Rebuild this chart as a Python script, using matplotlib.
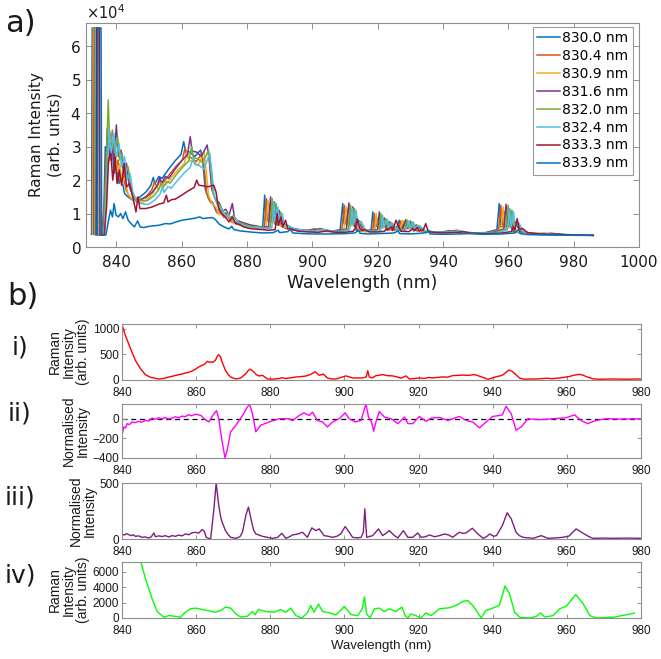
import matplotlib
matplotlib.use("Agg")
import matplotlib.pyplot as plt
from matplotlib.ticker import ScalarFormatter

plt.rcParams['font.family'] = ['DejaVu Sans']

# ---------------- panel a) data : (wavelength nm, intensity) ----------------
series_labels = ['830.0 nm', '830.4 nm', '830.9 nm', '831.6 nm',
                 '832.0 nm', '832.4 nm', '833.3 nm', '833.9 nm']

s_830_0 = [(832.4,3800),(832.6,65500),(833.4,65500),(833.6,3600),(835.6,3600),
    (836.2,12000),(836.6,30000),(837.0,25000),(837.5,33000),(838.1,26000),(838.7,30000),(839.3,22000),
    (840.0,25000),(840.8,19000),(841.5,21000),(842.5,16000),(843.5,15000),(845.0,14000),
    (847.0,14800),(849.0,16400),(850.5,18300),(851.3,20800),(851.8,18900),(853.0,21100),(854.0,20500),
    (856.0,23300),(858.0,25800),(859.8,27700),(860.6,31500),(861.2,28700),(862.5,28400),(864.0,27100),
    (865.8,29000),(866.5,25200),(867.2,17300),(868.2,14500),(869.5,13200),(870.5,10700),(871.5,11300),
    (872.5,9500),(873.5,10100),(875.0,7900),(877.0,7200),(879.0,6600),
    (881.0,6200),(883.0,5800),(884.8,6000),(885.4,15500),(885.8,8000),(886.6,13000),(887.1,7500),
    (888.0,10500),(888.6,6800),(890.0,6600),(892.0,5500),(895.0,5000),(898.0,4800),
    (900.5,5400),(903.0,4800),(906.0,4700),(908.5,5200),(909.3,13000),(909.7,7000),(910.5,11500),
    (911.0,6500),(912.0,8000),(913.5,5000),
    (916.0,4700),(918.0,5200),(918.5,10500),(918.9,6000),(920.0,8500),(920.5,5800),(921.5,7500),(923.0,5300),
    (925.5,5000),(926.6,8000),(927.0,5500),(928.0,7500),(928.5,5600),(929.8,6500),(931.5,5000),
    (934.0,4600),(937.0,4400),
    (940.5,4600),(942.0,4900),(944.0,4400),(948.0,4200),
    (953.0,4300),(956.5,5200),(957.2,13000),(957.6,6000),(958.4,11000),(958.9,6000),(960.0,7500),
    (961.5,4600),(964.0,4200),
    (968.0,3900),(971.0,4100),(972.0,3800),(975.0,3700),(980.0,3600),(986.0,3500)]

s_830_4 = [(832.6,3800),(832.8,65500),(833.6,65500),(833.8,3600),(835.8,3600),
    (836.4,14000),(836.9,29000),(837.4,24000),(838.0,34500),(838.5,27000),(839.0,31000),(839.8,23000),
    (840.5,26000),(841.2,19500),(842.0,22000),(843.0,17000),(844.0,15000),(845.3,14000),
    (847.4,13900),(849.4,15400),(850.9,17200),(851.7,19600),(852.2,17800),(853.4,19800),(854.4,19300),
    (856.4,21900),(858.4,24300),(860.2,26000),(861.0,29500),(861.6,27000),(862.9,26700),(864.4,25500),
    (866.2,28000),(866.9,23700),(867.6,16300),(868.6,13600),(869.9,12400),(870.9,10100),(871.9,10600),
    (872.9,8900),(873.9,9500),(875.4,7400),(877.4,6800),(879.4,6200),
    (881.5,6000),(883.5,5700),(885.3,5900),(885.9,14500),(886.3,7800),(887.1,12500),(887.6,7300),
    (888.5,10000),(889.1,6700),(890.5,6400),(892.5,5400),(895.5,4900),(898.5,4700),
    (901.0,5300),(903.5,4700),(906.5,4600),(909.0,5100),(909.8,12500),(910.2,6900),(911.0,11000),
    (911.5,6400),(912.5,7800),(914.0,4900),
    (916.5,4600),(918.5,5100),(919.0,10000),(919.4,5900),(920.5,8200),(921.0,5700),(922.0,7300),(923.5,5200),
    (926.0,4900),(927.1,7800),(927.5,5400),(928.5,7300),(929.0,5500),(930.3,6400),(932.0,4900),
    (934.5,4500),(937.5,4300),
    (941.0,4500),(942.5,4800),(944.5,4300),(948.5,4100),
    (953.5,4200),(957.0,5100),(957.7,12500),(958.1,5900),(958.9,10500),(959.4,5900),(960.5,7300),
    (962.0,4500),(964.5,4100),
    (968.5,3900),(971.5,4000),(972.5,3800),(975.5,3700),(980.0,3600),(986.0,3500)]

s_830_9 = [(832.8,3800),(833.0,65500),(833.8,65500),(834.0,3600),(835.9,3600),
    (836.6,15000),(837.1,30000),(837.7,25000),(838.4,33000),(839.0,27000),(839.6,30000),(840.3,22500),
    (841.0,25000),(841.8,19000),(842.6,21000),(843.5,16000),(844.5,14500),(846.0,13500),
    (848.0,13300),(850.0,14800),(851.5,16500),(852.3,18700),(852.8,17000),(854.0,19000),(855.0,18500),
    (857.0,21000),(859.0,23200),(860.8,24900),(861.6,28500),(862.2,25800),(863.5,25600),(865.0,24400),
    (866.8,28500),(867.5,22700),(868.2,15600),(869.2,13100),(870.5,11900),(871.5,9600),(872.5,10200),
    (873.5,8600),(874.5,9100),(876.0,7100),(878.0,6500),(880.0,5900),
    (882.0,6000),(884.0,5600),(885.8,5800),(886.4,14000),(886.8,7700),(887.6,12500),(888.1,7200),
    (889.0,10000),(889.6,6600),(891.0,6300),(893.0,5300),(896.0,4900),(899.0,4700),
    (901.6,5300),(904.1,4700),(907.1,4600),(909.6,5100),(910.4,12000),(910.8,6800),(911.6,11500),
    (912.1,6300),(913.1,7700),(914.6,4900),
    (917.1,4600),(919.1,5100),(919.6,10000),(920.0,5800),(921.1,8500),(921.6,5600),(922.6,7200),(924.1,5100),
    (926.6,4900),(927.7,8000),(928.1,5400),(929.1,7600),(929.6,5500),(930.9,6300),(932.6,4900),
    (935.1,4500),(938.1,4300),
    (941.7,4500),(943.2,4900),(945.2,4300),(949.2,4100),
    (954.2,4200),(957.7,5100),(958.4,12000),(958.8,5900),(959.6,11000),(960.1,5800),(961.2,7200),
    (962.7,4500),(965.2,4100),
    (969.2,3900),(972.2,4000),(973.2,3800),(976.2,3700),(980.5,3600),(986.0,3500)]

s_831_6 = [(833.1,3800),(833.3,65500),(834.0,65500),(834.2,3600),(836.0,3600),
    (836.7,18000),(837.2,35500),(837.8,27000),(838.6,31000),(839.2,26000),(840.0,36500),(840.6,27000),
    (841.4,29000),(842.2,22000),(843.1,25000),(844.0,18000),(845.2,15000),(846.5,14000),
    (849.0,14800),(851.0,16400),(852.5,18300),(853.3,20800),(853.8,18900),(855.0,21100),(856.0,20500),
    (858.0,23300),(860.0,25800),(861.8,27700),(862.6,33000),(863.2,28700),(864.5,28400),(866.0,27100),
    (867.8,30500),(868.5,25200),(869.2,17300),(870.2,14500),(871.5,13200),(872.5,10700),(873.5,11300),
    (874.5,9500),(875.5,13000),(876.2,8500),(877.0,7900),(879.0,7200),(881.0,6600),
    (882.8,6300),(884.8,5900),(886.6,6100),(887.2,15000),(887.6,8200),(888.4,13500),(888.9,7700),
    (889.8,11000),(890.4,7000),(891.8,6700),(893.8,5600),(896.8,5100),(899.8,4900),
    (902.4,5500),(904.9,4900),(907.9,4800),(910.4,5300),(911.2,13200),(911.6,7100),(912.4,12000),
    (912.9,6600),(913.9,8200),(915.4,5100),
    (918.0,4800),(920.0,5300),(920.5,10500),(920.9,6100),(922.0,8700),(922.5,5900),(923.5,7600),(925.0,5300),
    (927.5,5000),(928.6,8200),(929.0,5600),(930.0,7700),(930.5,5700),(931.8,6600),(933.5,5000),
    (936.0,4600),(939.0,4400),
    (942.6,4700),(944.1,5000),(946.1,4400),(950.1,4200),
    (955.1,4300),(958.6,5300),(959.3,12800),(959.7,6100),(960.5,11200),(961.0,6100),(962.1,7600),
    (963.6,4600),(966.1,4200),
    (970.2,3900),(973.2,4100),(974.2,3800),(977.2,3700),(981.0,3600),(986.0,3500)]

s_832_0 = [(833.3,3800),(833.5,65500),(834.2,65500),(834.4,3600),(836.1,3600),
    (836.8,20000),(837.5,44000),(838.0,30000),(838.8,35000),(839.5,28000),(840.4,33000),(841.0,26000),
    (841.8,28000),(842.6,21000),(843.6,24000),(844.6,17000),(845.6,15000),(847.0,14000),
    (849.4,13800),(851.4,15300),(852.9,17000),(853.7,19300),(854.2,17600),(855.4,19600),(856.4,19100),
    (858.4,21700),(860.4,24000),(862.2,25800),(863.0,30000),(863.6,26700),(864.9,26400),(866.4,25200),
    (868.2,29000),(868.9,23400),(869.6,16100),(870.6,13500),(871.9,12300),(872.9,10000),(873.9,10500),
    (874.9,8800),(875.9,9400),(877.4,7300),(879.4,6700),(881.4,6100),
    (883.3,6100),(885.3,5700),(887.1,5900),(887.7,14500),(888.1,7900),(888.9,13000),(889.4,7400),
    (890.3,10500),(890.9,6800),(892.3,6500),(894.3,5400),(897.3,5000),(900.3,4800),
    (902.9,5300),(905.4,4800),(908.4,4700),(910.9,5200),(911.7,12500),(912.1,6900),(912.9,11500),
    (913.4,6400),(914.4,7900),(915.9,5000),
    (918.5,4700),(920.5,5200),(921.0,10000),(921.4,6000),(922.5,8500),(923.0,5800),(924.0,7400),(925.5,5200),
    (928.0,5000),(929.1,8000),(929.5,5500),(930.5,7500),(931.0,5600),(932.3,6500),(934.0,5000),
    (936.5,4600),(939.5,4400),
    (943.1,4600),(944.6,5000),(946.6,4400),(950.6,4200),
    (955.7,4300),(959.2,5200),(959.9,12500),(960.3,6000),(961.1,11000),(961.6,6000),(962.7,7400),
    (964.2,4600),(966.7,4200),
    (970.8,3900),(973.8,4100),(974.8,3800),(977.8,3700),(981.5,3600),(986.0,3500)]

s_832_4 = [(833.6,3800),(833.8,65500),(834.5,65500),(834.7,3600),(836.2,3600),
    (837.0,17000),(837.8,35000),(838.4,28000),(839.2,34000),(840.0,27000),(840.8,31000),(841.6,24000),
    (842.5,27000),(843.3,20000),(844.2,22000),(845.0,16500),(846.0,14000),(847.5,13000),
    (849.8,12700),(851.8,14100),(853.3,15700),(854.1,17900),(854.6,16300),(855.8,18100),(856.8,17600),
    (858.8,20000),(860.8,22200),(862.6,23800),(863.4,26500),(864.0,24700),(865.3,24400),(866.8,23300),
    (868.6,28000),(869.3,21700),(870.0,14900),(871.0,12500),(872.3,11400),(873.3,9200),(874.3,9700),
    (875.3,8200),(876.3,8700),(877.8,6800),(879.8,6200),(881.8,5700),
    (883.8,5800),(885.8,5500),(887.6,5700),(888.2,13500),(888.6,7600),(889.4,12000),(889.9,7100),
    (890.8,10000),(891.4,6600),(892.8,6300),(894.8,5300),(897.8,4900),(900.8,4700),
    (903.4,5200),(905.9,4700),(908.9,4600),(911.4,5100),(912.2,11500),(912.6,6800),(913.4,11000),
    (913.9,6300),(914.9,7700),(916.4,4900),
    (919.0,4600),(921.0,5100),(921.5,9500),(921.9,5900),(923.0,8300),(923.5,5700),(924.5,7200),(926.0,5100),
    (928.5,4900),(929.6,7800),(930.0,5400),(931.0,7400),(931.5,5500),(932.8,6400),(934.5,4900),
    (937.0,4500),(940.0,4300),
    (943.6,4500),(945.1,4900),(947.1,4300),(951.1,4100),
    (956.2,4200),(959.7,5100),(960.4,11500),(960.8,5900),(961.6,10500),(962.1,5900),(963.2,7200),
    (964.7,4500),(967.2,4100),
    (971.3,3900),(974.3,4000),(975.3,3800),(978.3,3700),(982.0,3600),(986.0,3500)]

s_833_3 = [(833.8,3800),(834.0,65500),(834.8,65500),(835.0,3600),(836.3,3600),
    (837.0,12000),(837.6,26000),(838.3,28000),(838.9,20000),(839.6,27000),(840.2,19000),(840.9,23000),
    (841.6,18500),(842.4,25000),(843.1,18000),(844.0,19000),(845.0,15000),(846.0,10500),(846.6,15000),
    (847.2,11500),
    (849.0,11500),(851.0,12000),(853.0,12800),(854.5,13200),(855.3,15500),(855.8,13500),(857.0,14200),
    (858.0,14300),(860.0,15500),(862.0,16800),(863.8,17800),(864.6,20000),(865.2,18500),(866.5,18300),
    (868.0,18000),(869.8,18500),(870.5,16500),(871.2,12000),(872.2,10000),(873.5,8800),(874.5,7500),
    (875.5,9000),(876.5,7000),(877.5,6800),(879.0,6000),(881.0,5500),(883.0,5300),
    (884.8,5200),(886.6,5000),(888.6,5200),(889.2,10000),(889.6,6500),(890.4,9000),(890.9,6000),
    (891.8,8000),(892.4,5600),(893.8,5300),(895.8,4700),(898.8,4500),(901.8,4400),
    (904.5,4800),(907.0,4400),(910.0,4400),(912.5,4700),(913.3,5800),(913.7,8400),(914.5,5600),
    (915.0,5000),(916.0,5200),(917.5,4500),
    (920.1,4500),(922.1,4700),(922.6,5500),(923.0,5000),(924.1,6000),(924.6,4900),(925.6,8000),(927.1,4700),
    (929.6,4600),(930.7,5500),(931.1,4800),(932.1,5800),(932.6,4900),(933.9,5000),(934.7,7000),
    (935.5,4600),(938.0,4300),(941.1,4200),
    (944.7,4400),(946.2,4600),(948.2,4200),(952.2,4000),
    (957.4,4100),(960.9,4600),(961.6,6000),(962.0,5000),(962.7,8500),(963.3,5200),(964.4,5500),
    (965.9,4300),(968.4,4000),
    (972.5,3800),(975.5,3900),(976.5,3700),(979.5,3600),(983.0,3550),(986.0,3500)]

s_833_9 = [(834.1,3800),(834.3,65500),(835.3,65500),(835.5,3600),(836.8,3600),
    (837.5,7500),(838.2,11000),(838.8,9000),(839.3,13000),(839.9,9500),(840.6,9000),(841.3,10000),
    (842.0,8500),(842.8,10500),(843.6,8000),(844.5,7000),(845.5,6000),(846.5,7800),(847.3,6000),
    (848.5,5800),
    (849.0,6000),(851.0,6300),(853.0,6500),(855.0,7000),(856.5,6900),(858.0,7400),(860.0,8000),
    (862.0,8300),(864.0,8600),(865.5,9000),(866.5,8500),(868.0,8700),(869.5,8800),(870.5,8000),
    (871.5,6800),(873.0,6000),(874.5,5400),(875.3,6200),(876.0,5200),(878.0,4800),(880.0,4600),
    (882.0,4400),(885.0,4200),(888.0,4300),(889.5,5000),(890.0,4300),(892.5,4600),(893.3,5300),
    (894.0,4200),(897.0,4000),(900.0,3900),(905.0,3900),(910.0,4000),(913.0,4200),(914.2,5000),
    (914.6,4100),(917.0,3900),(920.0,4000),(923.0,4100),(925.0,4200),(926.3,4800),(926.7,4000),
    (930.0,3900),(933.0,4100),(935.0,4300),(935.6,5000),(936.0,3900),(940.0,3800),(945.0,3900),
    (948.0,4000),(952.0,3800),(958.0,3900),(962.0,4200),(963.2,5300),(963.6,4000),(966.0,3700),
    (970.0,3600),(975.0,3550),(980.0,3500),(986.0,3450)]

series_data = [s_830_0, s_830_4, s_830_9, s_831_6, s_832_0, s_832_4, s_833_3, s_833_9]
series_colors = ['#0072BD', '#D95319', '#EDB120', '#7E2F8E',
                 '#77AC30', '#4DBEEE', '#A2142F', '#0072BD']

# ---------------- panel b) data ----------------
raman_i = [(840.0,1077),(840.9,870),(842.3,610),(843.6,383),(845.0,220),(846.3,104),(847.7,52),
    (849.9,20),(851.2,30),(852.6,58),(854.0,80),(855.3,104),(856.2,115),(857.1,136),(858.0,150),
    (858.9,175),(859.8,210),(860.7,253),(861.4,280),(862.1,299),(862.6,330),(863.0,363),(863.5,345),
    (863.9,350),(864.5,345),(865.2,383),(865.7,460),(866.1,493),(866.6,450),(867.0,350),(867.9,188),
    (868.6,110),(869.3,58),(870.7,20),(872.0,39),(873.4,123),(874.0,180),(874.6,210),(875.6,156),
    (876.3,100),(877.0,78),(877.9,91),(879.2,20),(880.5,15),(882.4,30),(883.3,45),(884.2,30),
    (886.9,58),(888.2,65),(889.6,78),(890.9,110),(892.1,160),(893.2,91),(894.3,115),(895.4,39),
    (896.5,20),(897.7,20),(899.5,60),(900.4,80),(901.3,60),(902.2,40),(904.9,40),(905.9,60),
    (906.3,180),(906.7,58),(907.5,40),(908.5,85),(909.3,90),(910.3,105),(911.5,85),(913.0,80),
    (914.2,60),(915.3,35),(916.6,80),(917.5,20),(919.0,30),(920.2,40),(921.5,30),(922.8,50),
    (923.8,40),(925.0,50),(926.5,60),(927.8,55),(929.2,85),(930.5,90),(932.0,95),(933.5,90),
    (935.1,105),(936.2,80),(937.4,50),(938.7,15),(940.0,40),(941.0,65),(942.0,80),(942.8,100),
    (943.6,150),(944.4,195),(945.2,170),(946.0,120),(947.3,35),(948.5,15),(950.0,20),(952.0,20),
    (954.5,35),(956.0,25),(958.1,40),(959.5,55),(960.8,70),(962.0,95),(963.5,110),(964.5,90),
    (965.3,65),(967.1,20),(969.0,15),(972.5,20),(976.0,15),(980.0,20)]

norm_ii = [(840.0,-167),(840.3,-120),(840.5,-83),(840.9,-95),(841.4,-50),(842.0,-60),(842.7,-33),
    (843.5,-40),(844.5,-27),(845.3,-35),(846.3,-17),(847.2,-25),(848.1,7),(849.0,-5),(849.8,10),
    (850.8,0),(851.7,12),(852.5,-3),(853.5,7),(854.4,20),(855.3,10),(856.2,27),(857.0,20),(857.9,40),
    (858.8,30),(859.8,45),(860.7,40),(861.4,30),(862.1,0),(863.4,-33),(864.8,50),(865.5,83),(866.1,0),
    (867.0,-233),(867.8,-400),(868.4,-317),(869.3,-133),(870.7,-67),(872.5,33),(873.8,117),(874.4,150),
    (875.2,50),(876.1,-133),(877.4,-67),(879.7,-33),(882.4,0),(885.1,0),(886.0,-20),(887.8,33),
    (889.1,60),(890.5,33),(891.4,67),(892.7,-17),(894.1,-33),(895.4,-83),(896.8,-33),(898.6,0),
    (900.2,60),(901.3,0),(902.9,-33),(904.5,-17),(905.8,150),(906.5,17),(907.3,-33),(907.9,-127),
    (908.5,-33),(909.4,73),(910.8,17),(912.6,0),(914.4,-50),(916.2,17),(917.1,-50),(918.4,-50),
    (920.2,23),(922.0,-27),(923.4,7),(925.6,13),(927.9,-17),(929.2,0),(931.0,23),(932.8,-17),
    (934.6,-33),(936.4,-93),(938.2,-33),(940.0,23),(941.8,33),(942.6,40),(943.6,127),(945.0,50),
    (946.3,-117),(947.7,-83),(949.5,0),(952.6,-10),(956.2,0),(959.8,10),(962.1,40),(963.8,-17),
    (965.6,-50),(967.9,-17),(970.6,0),(975.0,-3),(980.0,0)]

norm_iii = [(840.0,45),(840.6,35),(841.2,48),(841.8,39),(842.5,30),(843.0,38),(843.6,24),(844.5,28),
    (845.4,15),(846.3,18),(847.2,9),(847.9,20),(848.6,54),(849.0,21),(850.0,28),(850.8,22),(851.7,30),
    (852.6,18),(853.5,30),(854.4,24),(855.3,35),(856.2,28),(857.1,45),(858.0,38),(858.9,55),(859.8,60),
    (860.7,52),(861.6,84),(862.2,70),(862.7,15),(863.9,0),(864.8,270),(865.4,500),(866.1,300),
    (866.6,200),(867.0,150),(867.5,110),(867.9,75),(868.6,40),(869.3,15),(870.7,6),(871.8,20),
    (872.5,60),(873.4,210),(874.1,285),(875.0,150),(875.5,80),(876.1,45),(877.0,35),(877.9,24),
    (879.2,15),(880.6,6),(882.0,15),(883.1,51),(884.2,6),(885.2,20),(886.0,36),(887.5,45),(888.7,60),
    (890.0,15),(891.2,99),(892.3,75),(893.2,90),(894.5,30),(895.5,25),(896.8,15),(898.0,25),(899.0,45),
    (900.2,111),(901.3,60),(902.2,15),(903.5,10),(904.5,15),(905.1,60),(905.5,270),(906.0,15),
    (907.6,30),(909.2,90),(910.3,30),(911.2,50),(912.1,75),(913.5,30),(914.4,9),(915.9,75),(917.1,15),
    (918.4,15),(919.8,54),(920.7,15),(921.8,20),(923.0,36),(924.3,20),(925.6,30),(927.0,45),(928.2,35),
    (929.2,15),(931.0,60),(932.0,50),(932.8,54),(934.5,96),(936.0,45),(937.4,6),(938.3,20),(939.2,45),
    (940.2,25),(941.0,30),(942.6,120),(943.9,234),(945.0,180),(946.3,60),(947.2,30),(948.2,15),
    (950.9,6),(953.1,30),(954.9,6),(957.0,10),(958.9,15),(960.5,25),(962.5,90),(963.5,70),(964.7,45),
    (966.0,20),(967.0,6),(970.0,8),(972.4,6),(976.0,8),(980.0,6)]

raman_iv = [(844.0,9000),(845.0,7400),(846.3,5200),(848.1,2530),(849.5,840),(851.3,90),(852.6,310),
    (854.4,220),(855.8,90),(857.1,750),(858.5,1200),(859.8,1290),(861.6,1110),(863.4,930),(865.2,750),
    (866.6,980),(867.9,1420),(869.3,1290),(870.7,530),(872.0,130),(873.8,220),(875.2,840),(875.9,400),
    (876.8,1110),(878.8,840),(881.0,750),(882.8,1110),(884.2,750),(885.5,1290),(886.9,310),(888.5,0),
    (890.0,670),(890.9,1640),(891.8,750),(893.0,1820),(894.1,840),(895.9,670),(897.7,400),(900.0,1510),
    (901.8,440),(903.6,310),(904.8,1200),(905.4,2750),(906.0,530),(906.9,0),(908.1,1200),(909.4,1290),
    (910.8,840),(912.1,1200),(913.9,840),(915.5,1420),(916.4,310),(917.1,0),(917.9,530),(919.3,310),
    (920.6,0),(922.0,670),(923.4,310),(925.6,1200),(928.3,1330),(930.1,1640),(932.0,2180),(933.3,2260),
    (934.6,1640),(936.9,0),(938.2,980),(940.0,1290),(941.8,1640),(943.3,4170),(944.5,3200),(945.9,750),
    (947.3,90),(950.0,0),(951.8,220),(952.9,670),(954.0,130),(956.3,310),(958.1,1200),(959.9,1550),
    (962.4,3060),(964.4,1860),(966.2,310),(968.0,0),(972.5,90),(978.2,620)]

# ---------------- figure ----------------
W, H = 661, 659
fig = plt.figure(figsize=(W / 100, H / 100), dpi=100)


def rect(l, t, r, b):
    return [l / W, 1 - b / H, (r - l) / W, (b - t) / H]


SPINE = '#8f8f8f'
TXT = '#1a1a1a'


def style(ax, fs, fam, length):
    for s in ax.spines.values():
        s.set_color(SPINE)
        s.set_linewidth(0.8)
    ax.tick_params(direction='in', length=length, width=0.7, color=SPINE,
                   top=True, right=True, labelsize=fs, labelcolor=TXT)
    for lab in ax.get_xticklabels() + ax.get_yticklabels():
        lab.set_family(fam)


# panel a
axa = fig.add_axes(rect(86, 23, 639, 247))
for pts, col, lab in zip(series_data, series_colors, series_labels):
    axa.plot([p[0] for p in pts], [p[1] for p in pts], color=col, lw=1.1, label=lab)
axa.set_xlim(830.7, 1000)
axa.set_ylim(0, 67000)
axa.set_xticks(list(range(840, 1001, 20)))
axa.set_yticks(list(range(0, 60001, 10000)))
fmt = ScalarFormatter(useMathText=True)
fmt.set_powerlimits((0, 0))
axa.yaxis.set_major_formatter(fmt)
style(axa, 11, 'DejaVu Sans', 4)
axa.tick_params(axis='x', pad=6)
axa.yaxis.get_offset_text().set_fontsize(10.5)
axa.yaxis.get_offset_text().set_color(TXT)
axa.set_xlabel('Wavelength (nm)', fontsize=12.5, color=TXT, labelpad=3)
axa.set_ylabel('Raman Intensity\n(arb. units)', fontsize=11, color=TXT, labelpad=6,
               linespacing=1.25)
leg = axa.legend(loc='upper right', bbox_to_anchor=(633 / W, 1 - 27 / H),
                 bbox_transform=fig.transFigure, borderaxespad=0, fontsize=10,
                 frameon=True, fancybox=False, framealpha=1, edgecolor='#9a9a9a',
                 handlelength=1.7, handletextpad=0.15, labelspacing=0.28, borderpad=0.3)
leg.get_frame().set_linewidth(0.8)

fig.text(20 / W, 1 - 23 / H, 'a)', fontsize=22, ha='center', va='center', color=TXT)
fig.text(23 / W, 1 - 297 / H, 'b)', fontsize=22, ha='center', va='center', color=TXT)

# panel b sub-plots
BF = 'Liberation Sans'
panels = [
    (raman_i, '#FF0000', 324, 380, (0, 1090), [0, 500, 1000], 'Raman\nIntensity\n(arb. units)', 'i)', 348),
    (norm_ii, '#FF00FF', 404, 458, (-400, 150), [-400, -200, 0], 'Normalised\nIntensity', 'ii)', 414),
    (norm_iii, '#7E1E80', 483, 539, (0, 500), [0, 500], 'Normalised\nIntensity', 'iii)', 497),
    (raman_iv, '#00FF00', 562, 618, (0, 7300), [0, 2000, 4000, 6000], 'Raman\nIntensity\n(arb. units)', 'iv)', 576),
]
for data, col, top, bot, ylim, yt, ylab, tag, tagy in panels:
    ax = fig.add_axes(rect(122, top, 641, bot))
    if tag == 'ii)':
        ax.axhline(0, color='black', lw=0.9, ls=(0, (4, 3)), zorder=1)
    ax.plot([p[0] for p in data], [p[1] for p in data], color=col, lw=1.0, zorder=2)
    ax.set_xlim(840, 980)
    ax.set_ylim(*ylim)
    ax.set_xticks(list(range(840, 981, 20)))
    ax.set_yticks(yt)
    style(ax, 8.5, BF, 3)
    ax.tick_params(axis='y', pad=2)
    ax.tick_params(axis='x', pad=5)
    ax.set_ylabel(ylab, fontsize=10, family=BF, color=TXT, linespacing=1.0, labelpad=2)
    fig.text(20 / W, 1 - tagy / H, tag, fontsize=18, ha='center', va='center', color=TXT)
    if tag == 'iv)':
        ax.set_xlabel('Wavelength (nm)', fontsize=9.5, family=BF, color=TXT, labelpad=2)

fig.savefig('out.png', dpi=100)
